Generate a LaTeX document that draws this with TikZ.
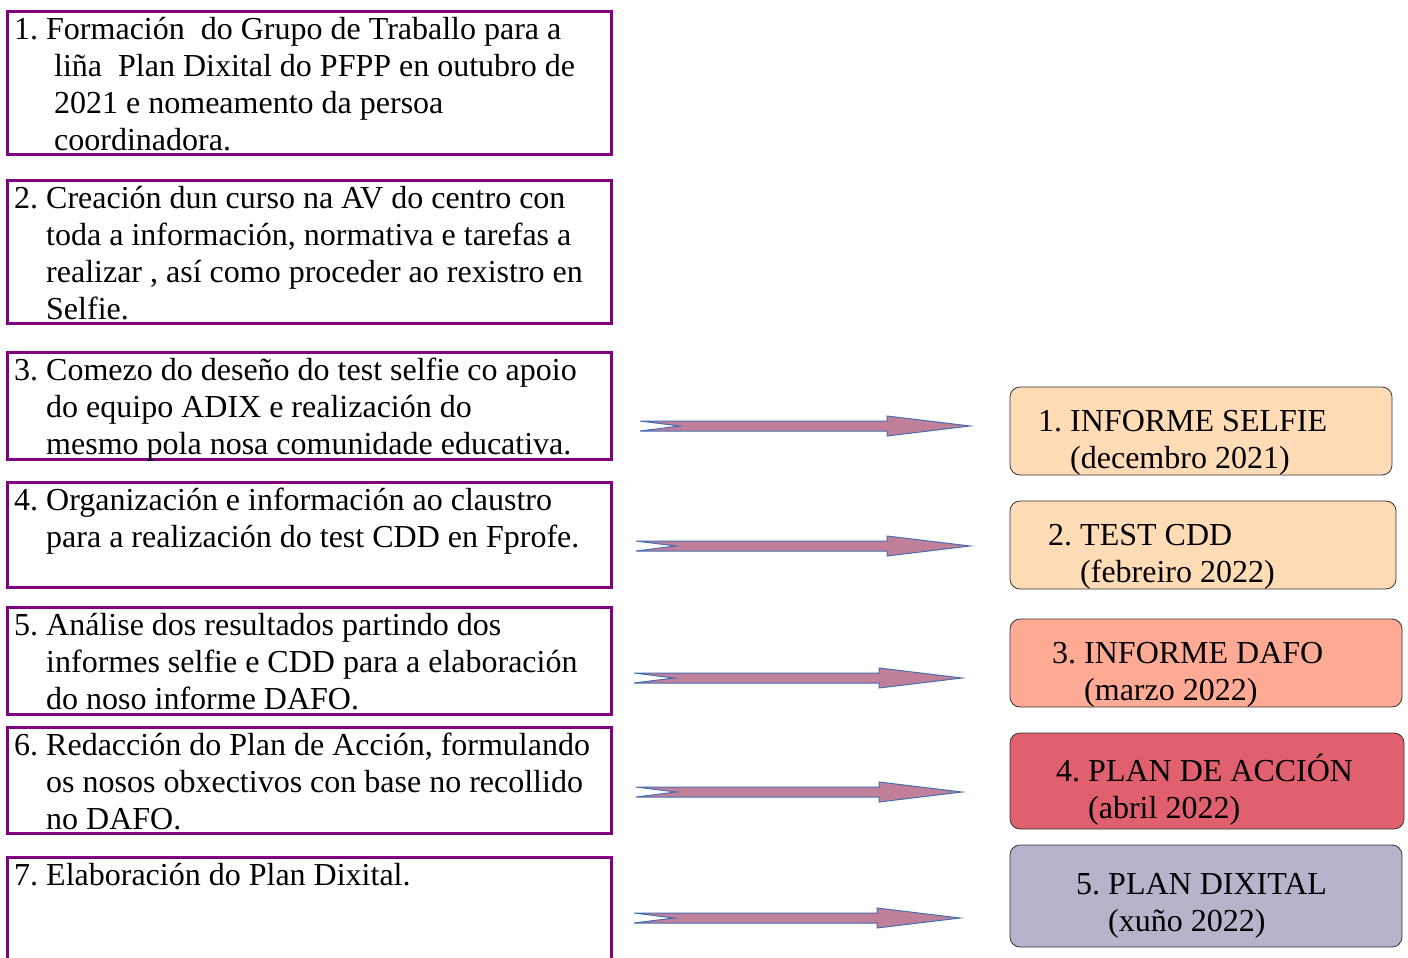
\documentclass[tikz,border=0pt]{standalone}
\usepackage{fontspec}
\setmainfont{Liberation Serif}
\usetikzlibrary{positioning,calc}
\frenchspacing

\definecolor{stepline}{RGB}{128,0,128}
\definecolor{arrowfill}{RGB}{192,128,154}
\definecolor{arrowline}{RGB}{70,110,175}
\definecolor{peach}{RGB}{255,219,182}
\definecolor{salmon}{RGB}{255,170,149}
\definecolor{rose}{RGB}{224,96,112}
\definecolor{lilac}{RGB}{183,179,202}

% block arrow with a notched tail, from tail (#1) to tip (#2)
\newcommand{\blockarrow}[2]{%
  \draw[blockarrowstyle] ($(#1)+(0,-5)$) -- ($(#1)+(40,0)$) -- ($(#1)+(0,5)$)
    -- ($(#2)+(-83,5)$) -- ($(#2)+(-83,10)$) -- (#2) -- ($(#2)+(-83,-10)$)
    -- ($(#2)+(-83,-5)$) -- cycle;}

\begin{document}
\begin{tikzpicture}[x=1pt, y=-1pt,
    every node/.style={font=\fontsize{32}{37}\selectfont},
    stepbox/.style={draw=stepline, line width=3pt, minimum width=604pt, anchor=north west, inner sep=0pt, outer sep=0pt},
    steptext/.style={align=left, inner sep=0pt, anchor=north west},
    resultbox/.style={draw=black!80, line width=0.8pt, rounded corners=10pt, anchor=north west, inner sep=0pt, outer sep=0pt, minimum height=88pt},
    resulttext/.style={align=left, inner sep=0pt, anchor=north west},
    blockarrowstyle/.style={fill=arrowfill, draw=arrowline, line width=1pt, line join=miter}]
  \useasboundingbox (0,0) rectangle (1408,958);

  % left column: steps
  \node[stepbox, minimum height=143pt] (s1) at (7.5,11.5) {};
  \node[stepbox, minimum height=143pt] (s2) at (7.5,180.5) {};
  \node[stepbox, minimum height=107pt] (s3) at (7.5,352.5) {};
  \node[stepbox, minimum height=105pt] (s4) at (7.5,482.5) {};
  \node[stepbox, minimum height=107pt] (s5) at (7.5,607.5) {};
  \node[stepbox, minimum height=106pt] (s6) at (7.5,727.5) {};
  \node[stepbox, minimum height=140pt] (s7) at (7.5,857.5) {};

  \node[steptext, below right=5.5pt and 6.5pt of s1.north west] (t1)
    {1. Formación\ \ do Grupo de Traballo para a\\
     \hspace*{40pt}liña\ \ Plan Dixital do PFPP en outubro de\\
     \hspace*{40pt}2021 e nomeamento da persoa\\
     \hspace*{40pt}coordinadora.};
  \node[steptext, below right=5.5pt and 6.5pt of s2.north west] (t2)
    {2. Creación dun curso na AV do centro con\\
     \hspace*{32pt}toda a información, normativa e tarefas a\\
     \hspace*{32pt}realizar , así como proceder ao rexistro en\\
     \hspace*{32pt}Selfie.};
  \node[steptext, below right=5.5pt and 6.5pt of s3.north west] (t3)
    {3. Comezo do deseño do test selfie co apoio\\
     \hspace*{32pt}do equipo ADIX e realización do\\
     \hspace*{32pt}mesmo pola nosa comunidade educativa.};
  \node[steptext, below right=5.5pt and 6.5pt of s4.north west] (t4)
    {4. Organización e información ao claustro\\
     \hspace*{32pt}para a realización do test CDD en Fprofe.};
  \node[steptext, below right=5.5pt and 6.5pt of s5.north west] (t5)
    {5. Análise dos resultados partindo dos\\
     \hspace*{32pt}informes selfie e CDD para a elaboración\\
     \hspace*{32pt}do noso informe DAFO.};
  \node[steptext, below right=5.5pt and 6.5pt of s6.north west] (t6)
    {6. Redacción do Plan de Acción, formulando\\
     \hspace*{32pt}os nosos obxectivos con base no recollido\\
     \hspace*{32pt}no DAFO.};
  \node[steptext, below right=5.5pt and 6.5pt of s7.north west] (t7)
    {7. Elaboración do Plan Dixital.};

  % right column: results
  \node[resultbox, fill=peach, minimum width=382pt] (r1) at (1010,387) {};
  \node[resultbox, fill=peach, minimum width=386pt] (r2) at (1010,501) {};
  \node[resultbox, fill=salmon, minimum width=392pt] (r3) at (1010,619) {};
  \node[resultbox, fill=rose, minimum width=394pt, minimum height=96pt] (r4) at (1010,733) {};
  \node[resultbox, fill=lilac, minimum width=392pt, minimum height=102pt] (r5) at (1010,845) {};

  \node[resulttext, below right=23pt and 28pt of r1.north west] (u1)
    {1. INFORME SELFIE\\ \hspace*{32pt}(decembro 2021)};
  \node[resulttext, below right=23pt and 38pt of r2.north west] (u2)
    {2. TEST CDD\\ \hspace*{32pt}(febreiro 2022)};
  \node[resulttext, below right=23pt and 42pt of r3.north west] (u3)
    {3. INFORME DAFO\\ \hspace*{32pt}(marzo 2022)};
  \node[resulttext, below right=21pt and 46pt of r4.north west] (u4)
    {4. PLAN DE ACCIÓN\\ \hspace*{32pt}(abril 2022)};
  \node[resulttext, below right=28pt and 66pt of r5.north west] (u5)
    {5. PLAN DIXITAL\\ \hspace*{32pt}(xuño 2022)};

  % arrows between the columns
  \coordinate (a1) at (640,426);  \coordinate (b1) at (970,426);
  \coordinate (a2) at (636,546);  \coordinate (b2) at (970,546);
  \coordinate (a3) at (634,678);  \coordinate (b3) at (962,678);
  \coordinate (a4) at (636,792);  \coordinate (b4) at (962,792);
  \coordinate (a5) at (634,918);  \coordinate (b5) at (960,918);
  \blockarrow{a1}{b1}
  \blockarrow{a2}{b2}
  \blockarrow{a3}{b3}
  \blockarrow{a4}{b4}
  \blockarrow{a5}{b5}
\end{tikzpicture}
\end{document}
